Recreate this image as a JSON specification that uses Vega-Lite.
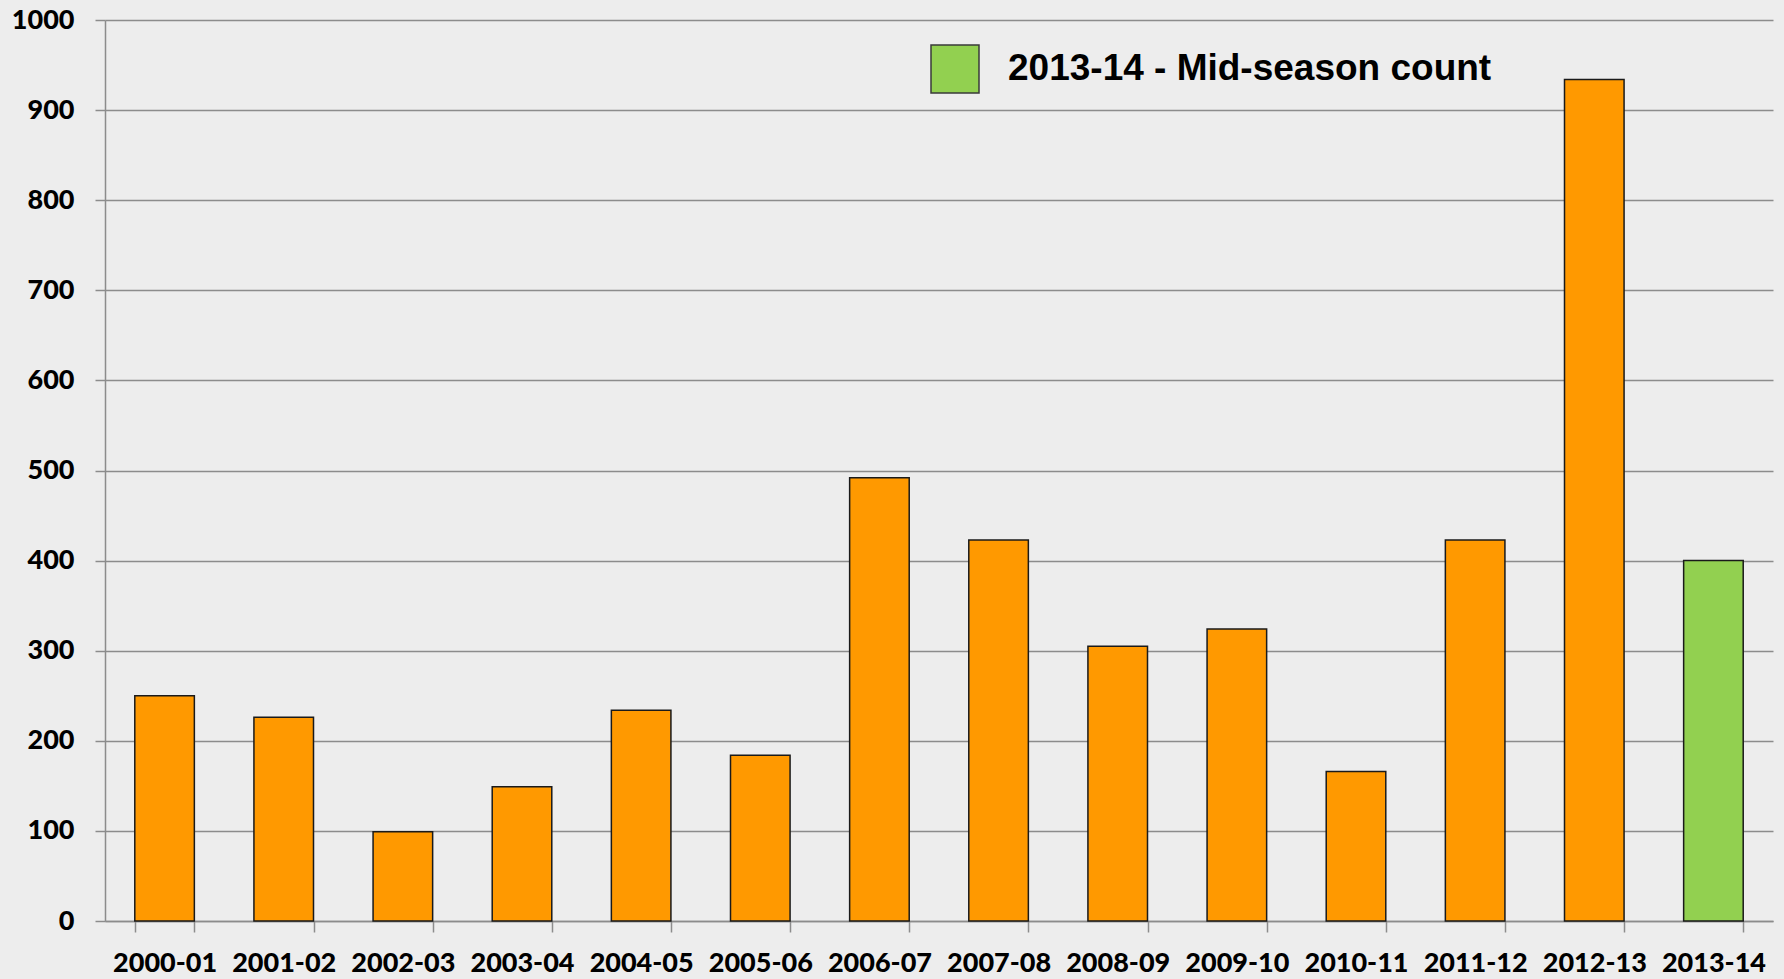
{
  "$schema": "https://vega.github.io/schema/vega-lite/v6.json",
  "width": 1668,
  "height": 901,
  "autosize": {"type": "none"},
  "padding": {"left": 105, "top": 20, "right": 11, "bottom": 58},
  "background": "#ededed",
  "config": {"view": {"stroke": null}},
  "data": {
    "values": [
      {"season": "2000-01", "count": 250, "type": "Season total"},
      {"season": "2001-02", "count": 226, "type": "Season total"},
      {"season": "2002-03", "count": 99, "type": "Season total"},
      {"season": "2003-04", "count": 149, "type": "Season total"},
      {"season": "2004-05", "count": 234, "type": "Season total"},
      {"season": "2005-06", "count": 184, "type": "Season total"},
      {"season": "2006-07", "count": 492, "type": "Season total"},
      {"season": "2007-08", "count": 423, "type": "Season total"},
      {"season": "2008-09", "count": 305, "type": "Season total"},
      {"season": "2009-10", "count": 324, "type": "Season total"},
      {"season": "2010-11", "count": 166, "type": "Season total"},
      {"season": "2011-12", "count": 423, "type": "Season total"},
      {"season": "2012-13", "count": 934, "type": "Season total"},
      {"season": "2013-14", "count": 400, "type": "2013-14 - Mid-season count"}
    ]
  },
  "mark": {"type": "bar", "stroke": "#1a1a1a", "strokeWidth": 1.5},
  "encoding": {
    "x": {
      "field": "season",
      "type": "nominal",
      "sort": null,
      "scale": {"paddingInner": 0.5, "paddingOuter": 0.25},
      "axis": {
        "title": null,
        "labelAngle": 0,
        "tickBand": "extent",
        "tickSize": 11,
        "tickColor": "#8c8c8c",
        "tickWidth": 1.5,
        "domainColor": "#8c8c8c",
        "domainWidth": 1.5,
        "labelFont": "Lato",
        "labelFontWeight": 900,
        "labelFontSize": 27,
        "labelColor": "#000000",
        "labelPadding": 18,
        "grid": false
      }
    },
    "y": {
      "field": "count",
      "type": "quantitative",
      "scale": {"domain": [0, 1000], "nice": false},
      "axis": {
        "title": null,
        "format": "d",
        "values": [0, 100, 200, 300, 400, 500, 600, 700, 800, 900, 1000],
        "grid": true,
        "gridColor": "#8c8c8c",
        "gridWidth": 1.5,
        "gridOpacity": 1,
        "tickSize": 10,
        "tickColor": "#8c8c8c",
        "tickWidth": 1.5,
        "domainColor": "#8c8c8c",
        "domainWidth": 1.5,
        "labelFont": "Lato",
        "labelFontWeight": 900,
        "labelFontSize": 27,
        "labelColor": "#000000",
        "labelPadding": 21
      }
    },
    "color": {
      "field": "type",
      "type": "nominal",
      "scale": {
        "domain": ["Season total", "2013-14 - Mid-season count"],
        "range": ["#ff9900", "#92d050"]
      },
      "legend": {
        "title": null,
        "values": ["2013-14 - Mid-season count"],
        "orient": "none",
        "legendX": 825,
        "legendY": 24,
        "padding": 0,
        "symbolType": "square",
        "symbolSize": 2304,
        "symbolStrokeColor": "#3a3a3a",
        "symbolStrokeWidth": 1.5,
        "symbolOpacity": 1,
        "labelFont": "Liberation Sans",
        "labelFontWeight": "bold",
        "labelFontSize": 37,
        "labelColor": "#000000",
        "labelOffset": 28,
        "labelLimit": 800
      }
    }
  }
}
